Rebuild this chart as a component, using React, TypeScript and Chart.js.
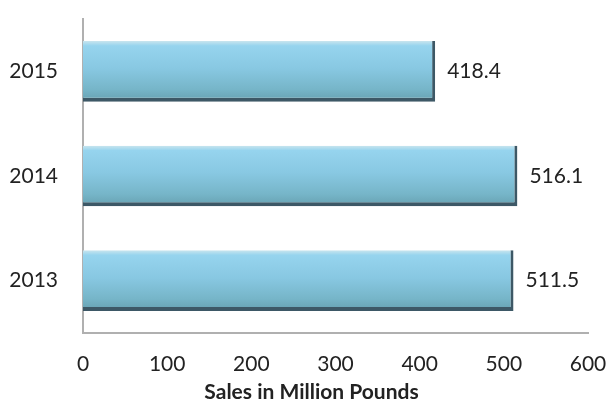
import { useEffect, useRef } from 'react';
import { Chart, registerables } from 'chart.js';

Chart.register(...registerables);

const years = ['2013', '2014', '2015'];
const sales = [511.5, 516.1, 418.4];
const xMin = 0;
const xMax = 600;
const xStep = 100;
const axisTitle = 'Sales in Million Pounds';

const FONT = 'Lato, "Open Sans", sans-serif';
const BAR_PCT = 0.58;

const valueLabels = {
  id: 'valueLabels',
  afterDatasetsDraw(chart: any) {
    const c = chart.ctx;
    const meta = chart.getDatasetMeta(0);
    c.save();
    c.font = `21px ${FONT}`;
    c.fillStyle = '#222';
    c.textAlign = 'left';
    c.textBaseline = 'middle';
    meta.data.forEach((el: any, i: number) => {
      c.fillText(String(sales[i]), el.x + 12, el.y);
    });
    c.restore();
  },
};

const axisTitleLabel = {
  id: 'axisTitleLabel',
  afterDraw(chart: any) {
    const c = chart.ctx;
    const xs = chart.scales.x;
    c.save();
    c.font = `bold 21px ${FONT}`;
    c.fillStyle = '#222';
    c.textAlign = 'center';
    c.textBaseline = 'middle';
    c.fillText(axisTitle, chart.width / 2 + 7, xs.bottom - 17);
    c.restore();
  },
};

export default function App() {
  const ref = useRef<HTMLCanvasElement>(null);

  useEffect(() => {
    if (!ref.current) return;
    const chart = new Chart(ref.current, {
      type: 'bar',
      data: {
        labels: years,
        datasets: [
          {
            data: sales,
            backgroundColor: (ctx: any) => {
              const ch = ctx.chart;
              const ys = ch.scales?.y;
              if (!ys || ctx.dataIndex === undefined) return '#86c6e0';
              const center = ys.getPixelForValue(ctx.dataIndex);
              const cat = Math.abs(ys.getPixelForValue(1) - ys.getPixelForValue(0));
              const h = cat * BAR_PCT;
              if (!isFinite(center) || !isFinite(h) || h <= 0) return '#86c6e0';
              const g = ch.ctx.createLinearGradient(0, center - h / 2, 0, center + h / 2);
              g.addColorStop(0, '#c9e5ee');
              g.addColorStop(0.08, '#96d4ee');
              g.addColorStop(0.45, '#88c8e2');
              g.addColorStop(0.8, '#76b5c8');
              g.addColorStop(1, '#66a0b0');
              return g;
            },
            borderColor: '#3d5866',
            borderWidth: { top: 0, left: 0, right: 3, bottom: 4 } as any,
            borderSkipped: false,
            barPercentage: BAR_PCT,
            categoryPercentage: 1,
          },
        ],
      },
      options: {
        indexAxis: 'y',
        responsive: false,
        animation: false,
        layout: { padding: { top: 19, right: 21, left: 0, bottom: 0 } },
        plugins: {
          legend: { display: false },
          tooltip: { enabled: false },
          title: { display: false },
        },
        scales: {
          x: {
            min: xMin,
            max: xMax,
            grid: { display: false, drawTicks: false },
            border: { display: true, color: '#b0b0b0', width: 2 },
            ticks: {
              stepSize: xStep,
              color: '#222',
              font: { family: FONT, size: 21 },
              padding: 19,
              maxRotation: 0,
            },
            title: { display: false },
            afterFit: (s: any) => {
              s.height = 76;
              s.paddingLeft = 0;
              s.paddingRight = 0;
              s.paddingTop = 0;
              s.paddingBottom = 0;
            },
          },
          y: {
            reverse: true,
            grid: { display: false, drawTicks: false },
            border: { display: true, color: '#b0b0b0', width: 2 },
            ticks: {
              color: '#222',
              font: { family: FONT, size: 21 },
              padding: 25,
            },
            afterFit: (s: any) => {
              s.width = 83;
              s.paddingLeft = 0;
              s.paddingRight = 0;
              s.paddingTop = 0;
              s.paddingBottom = 0;
            },
          },
        },
      },
      plugins: [valueLabels, axisTitleLabel],
    });
    return () => chart.destroy();
  }, []);

  return (
    <div style={{ position: 'fixed', left: 0, top: 0, width: 609, height: 409, background: '#fff' }}>
      <canvas ref={ref} width={609} height={409} style={{ display: 'block' }} />
    </div>
  );
}
